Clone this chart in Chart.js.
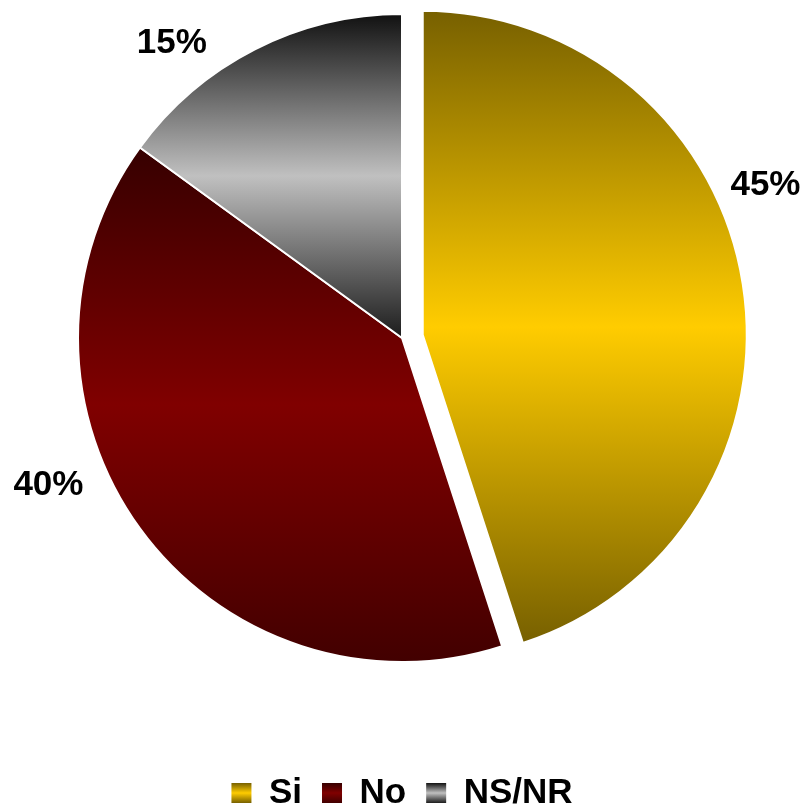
<!DOCTYPE html>
<html>
<head>
<meta charset="utf-8">
<script src="https://cdn.jsdelivr.net/npm/chart.js@4.4.1/dist/chart.umd.min.js"></script>
<style>
  html, body { margin: 0; padding: 0; background: #ffffff; }
  #c { display: block; }
</style>
</head>
<body>
<canvas id="c" width="807" height="809"></canvas>
<script>
// ---- data ----
const categories = ['Si', 'No', 'NS/NR'];
const values = [45, 40, 15];
const valueLabels = values.map(v => v + '%');

// gradient colours per slice: [edge, centre, edge]
const palette = [
  ['#776000', '#ffcc00', '#776000'],
  ['#360000', '#800000', '#420000'],
  ['#111111', '#c0c0c0', '#1c1c1c']
];

const FONT = '"Liberation Sans", Arial, Helvetica, sans-serif';

const explodePlugin = {
  id: 'explode',
  afterDatasetsUpdate(chart, args, opts) {
    const meta = chart.getDatasetMeta(0);
    meta.data.forEach((arc, i) => {
      const d = (opts.distance && opts.distance[i]) || 0;
      if (!d) return;
      const mid = (arc.startAngle + arc.endAngle) / 2;
      arc.x += Math.cos(mid) * d;
      arc.y += Math.sin(mid) * d;
    });
  }
};

function makeGrad(ctx, y0, y1, p) {
  const g = ctx.createLinearGradient(0, y0, 0, y1);
  g.addColorStop(0, p[0]);
  g.addColorStop(0.5, p[1]);
  g.addColorStop(1, p[2]);
  return g;
}

const gradientPlugin = {
  id: 'sliceGradient',
  beforeDraw(chart) {
    const lg = chart.legend;
    if (!lg || !lg.legendItems || !lg.legendHitBoxes) return;
    const lo = lg.options.labels;
    const fs = (lo.font && lo.font.size) || 12;
    const bh = lo.boxHeight;
    lg.legendItems.forEach((it, i) => {
      const hb = lg.legendHitBoxes[i];
      if (!hb) return;
      const top = hb.top + Math.max((fs - bh) / 2, 0);
      it.fillStyle = makeGrad(chart.ctx, top, top + bh, palette[i]);
      it.lineWidth = 0;
      it.strokeStyle = 'rgba(0,0,0,0)';
    });
  },
  beforeDatasetsDraw(chart) {
    const c = chart.ctx;
    chart.getDatasetMeta(0).data.forEach((arc, i) => {
      const {x, y, startAngle: s, endAngle: e, outerRadius: r} = arc;
      const ys = [y, y + Math.sin(s) * r, y + Math.sin(e) * r];
      for (let k = -8; k <= 8; k++) {
        const a = k * Math.PI / 2;
        if (a > s && a < e) ys.push(y + Math.sin(a) * r);
      }
      arc.options.backgroundColor = makeGrad(c, Math.min(...ys), Math.max(...ys), palette[i]);
    });
  }
};

const labelPlugin = {
  id: 'sliceLabels',
  afterDatasetsDraw(chart, args, opts) {
    const c = chart.ctx;
    c.save();
    c.font = 'bold 35px ' + FONT;
    c.fillStyle = '#000000';
    c.textAlign = 'center';
    c.textBaseline = 'middle';
    chart.getDatasetMeta(0).data.forEach((arc, i) => {
      const a = (arc.startAngle + arc.endAngle) / 2 + (opts.angleShift[i] || 0) * Math.PI / 180;
      const rr = arc.outerRadius + (opts.gap[i] || 0);
      c.fillText(valueLabels[i], arc.x + Math.cos(a) * rr, arc.y + Math.sin(a) * rr);
    });
    c.restore();
  }
};

new Chart(document.getElementById('c'), {
  type: 'pie',
  data: {
    labels: categories,
    datasets: [{
      data: values,
      backgroundColor: palette.map(p => p[1]),
      borderColor: '#ffffff',
      borderWidth: 2,
      radius: 324,
      clip: false
    }]
  },
  options: {
    responsive: false,
    animation: false,
    events: [],
    layout: { padding: { left: 0, right: 3, top: 0, bottom: -11.5 } },
    plugins: {
      legend: {
        position: 'bottom',
        title: {
          display: true,
          text: ' ',
          font: { size: 10, lineHeight: 1 },
          padding: { top: 69.5, bottom: 0 }
        },
        labels: {
          boxWidth: 20,
          boxHeight: 20,
          padding: 20,
          color: '#000000',
          font: { family: FONT, size: 35, weight: 'bold' }
        }
      },
      tooltip: { enabled: false },
      explode: { distance: [21, 0, 0] },
      sliceLabels: { angleShift: [-14.6, 13.4, -11], gap: [50, 59, 50] }
    }
  },
  plugins: [explodePlugin, gradientPlugin, labelPlugin]
});
</script>
</body>
</html>
